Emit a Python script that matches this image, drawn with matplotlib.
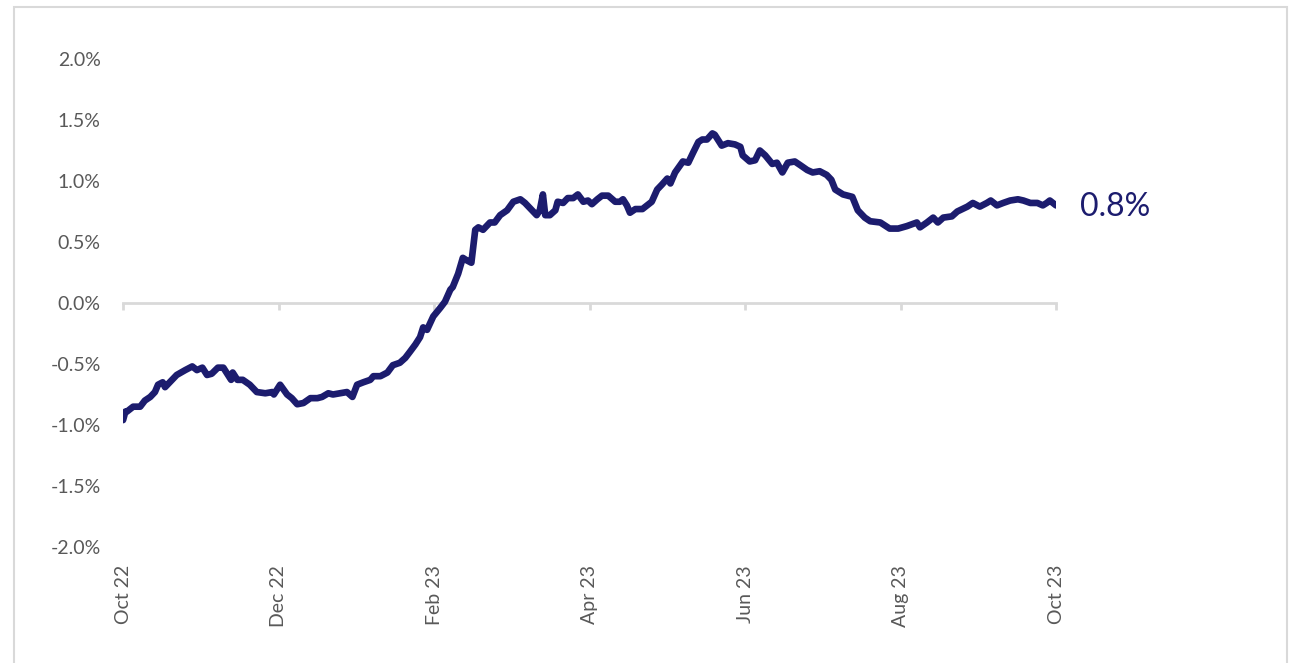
import matplotlib
matplotlib.use("Agg")
import matplotlib.pyplot as plt
from matplotlib.patches import Rectangle
from matplotlib.ticker import FuncFormatter

plt.rcParams["font.family"] = ["Lato", "DejaVu Sans"]

# time axis in months since Oct 22, series in %
months = [
    0.00, 0.03, 0.05, 0.13, 0.22, 0.28, 0.35, 0.41, 0.45, 0.51, 0.54, 0.60,
    0.69, 0.80, 0.89, 0.95, 1.02, 1.08, 1.14, 1.22, 1.29, 1.35, 1.39, 1.41,
    1.47, 1.54, 1.63, 1.72, 1.83, 1.92, 1.94, 2.02, 2.11, 2.17, 2.24, 2.32,
    2.41, 2.50, 2.56, 2.64, 2.70, 2.79, 2.88, 2.95, 3.01, 3.09, 3.18, 3.22,
    3.31, 3.40, 3.47, 3.56, 3.63, 3.69, 3.76, 3.82, 3.86, 3.91, 3.99, 4.08,
    4.14, 4.21, 4.24, 4.31, 4.37, 4.42, 4.48, 4.53, 4.57, 4.63, 4.72, 4.78,
    4.85, 4.94, 5.02, 5.11, 5.17, 5.23, 5.32, 5.36, 5.40, 5.43, 5.49, 5.56,
    5.59, 5.66, 5.72, 5.79, 5.85, 5.92, 5.98, 6.03, 6.10, 6.16, 6.24, 6.33,
    6.39, 6.43, 6.48, 6.52, 6.59, 6.68, 6.74, 6.80, 6.87, 6.93, 7.00, 7.04,
    7.10, 7.20, 7.27, 7.33, 7.40, 7.45, 7.51, 7.58, 7.61, 7.70, 7.78, 7.87,
    7.94, 7.97, 8.06, 8.13, 8.19, 8.26, 8.35, 8.41, 8.48, 8.55, 8.64, 8.71,
    8.80, 8.87, 8.96, 9.05, 9.11, 9.16, 9.26, 9.38, 9.45, 9.54, 9.61, 9.74,
    9.86, 9.97, 10.08, 10.21, 10.25, 10.34, 10.42, 10.48, 10.55, 10.66, 10.73, 10.86,
    10.93, 11.02, 11.11, 11.16, 11.24, 11.32, 11.41, 11.51, 11.58, 11.67, 11.76, 11.83,
    11.88, 11.92, 12.00,
]
values = [
    -0.96, -0.89, -0.89, -0.85, -0.85, -0.80, -0.77, -0.73, -0.67, -0.65, -0.69, -0.65,
    -0.59, -0.55, -0.52, -0.55, -0.53, -0.59, -0.58, -0.53, -0.53, -0.59, -0.63, -0.57,
    -0.63, -0.63, -0.67, -0.73, -0.74, -0.73, -0.75, -0.67, -0.75, -0.78, -0.83, -0.82,
    -0.78, -0.78, -0.77, -0.74, -0.75, -0.74, -0.73, -0.77, -0.67, -0.65, -0.63, -0.60,
    -0.60, -0.57, -0.51, -0.49, -0.45, -0.40, -0.34, -0.28, -0.20, -0.22, -0.11, -0.04,
    0.01, 0.11, 0.13, 0.24, 0.37, 0.35, 0.33, 0.60, 0.62, 0.60, 0.66, 0.66,
    0.72, 0.76, 0.83, 0.85, 0.82, 0.78, 0.72, 0.76, 0.89, 0.72, 0.72, 0.76,
    0.83, 0.82, 0.86, 0.86, 0.89, 0.83, 0.84, 0.81, 0.85, 0.88, 0.88, 0.83,
    0.83, 0.85, 0.80, 0.74, 0.77, 0.77, 0.80, 0.83, 0.93, 0.97, 1.02, 0.98,
    1.07, 1.16, 1.15, 1.23, 1.32, 1.34, 1.34, 1.39, 1.38, 1.29, 1.31, 1.30,
    1.28, 1.21, 1.16, 1.17, 1.25, 1.21, 1.14, 1.15, 1.07, 1.15, 1.16, 1.13,
    1.09, 1.07, 1.08, 1.05, 1.01, 0.93, 0.89, 0.87, 0.76, 0.70, 0.67, 0.66,
    0.61, 0.61, 0.63, 0.66, 0.62, 0.66, 0.70, 0.66, 0.70, 0.71, 0.75, 0.79,
    0.82, 0.79, 0.82, 0.84, 0.80, 0.82, 0.84, 0.85, 0.84, 0.82, 0.82, 0.80,
    0.82, 0.84, 0.80,
]
tick_pos = [0, 2, 4, 6, 8, 10, 12]
tick_labels = ["Oct 22", "Dec 22", "Feb 23", "Apr 23", "Jun 23", "Aug 23", "Oct 23"]
y_ticks = [-2.0, -1.5, -1.0, -0.5, 0.0, 0.5, 1.0, 1.5, 2.0]

NAVY = "#1C1C6E"
GRID = "#D9D9D9"
TXT = "#595959"

fig = plt.figure(figsize=(12.94, 6.63), dpi=100)
ax = fig.add_axes([0.0951, 0.175, 0.7210, 0.736])

ax.plot(months, values, color=NAVY, lw=4.8, solid_joinstyle="round", solid_capstyle="round", zorder=3)
ax.annotate(f"{values[-1]:.1f}%", xy=(months[-1], values[-1]), xytext=(17, -1.5),
            textcoords="offset points", va="center", ha="left", fontsize=23, color=NAVY)

ax.set_xlim(0, 12)
ax.set_ylim(-2.0, 2.0)
ax.set_yticks(y_ticks)
ax.yaxis.set_major_formatter(FuncFormatter(lambda v, _: f"{v:.1f}%"))
ax.tick_params(axis="y", length=0, pad=16, labelsize=14, labelcolor=TXT)

# zero line carries the tick marks, labels sit along the bottom
for sp in ["top", "right", "left"]:
    ax.spines[sp].set_visible(False)
ax.spines["bottom"].set_position(("data", 0))
ax.spines["bottom"].set_color(GRID)
ax.spines["bottom"].set_linewidth(2)
ax.set_xticks(tick_pos)
ax.tick_params(axis="x", direction="out", length=5, width=2, color=GRID, labelbottom=False)

sec = ax.secondary_xaxis("bottom")
sec.set_xticks(tick_pos, tick_labels, rotation=90)
sec.tick_params(length=0, pad=13, labelsize=14, labelcolor=TXT)
sec.spines["bottom"].set_visible(False)

fig.patches.append(Rectangle((0.0108, -0.02), 0.9838, 1.0094, transform=fig.transFigure,
                             fill=False, edgecolor=GRID, lw=1.5))

fig.savefig("out.png", dpi=100, facecolor="white")
